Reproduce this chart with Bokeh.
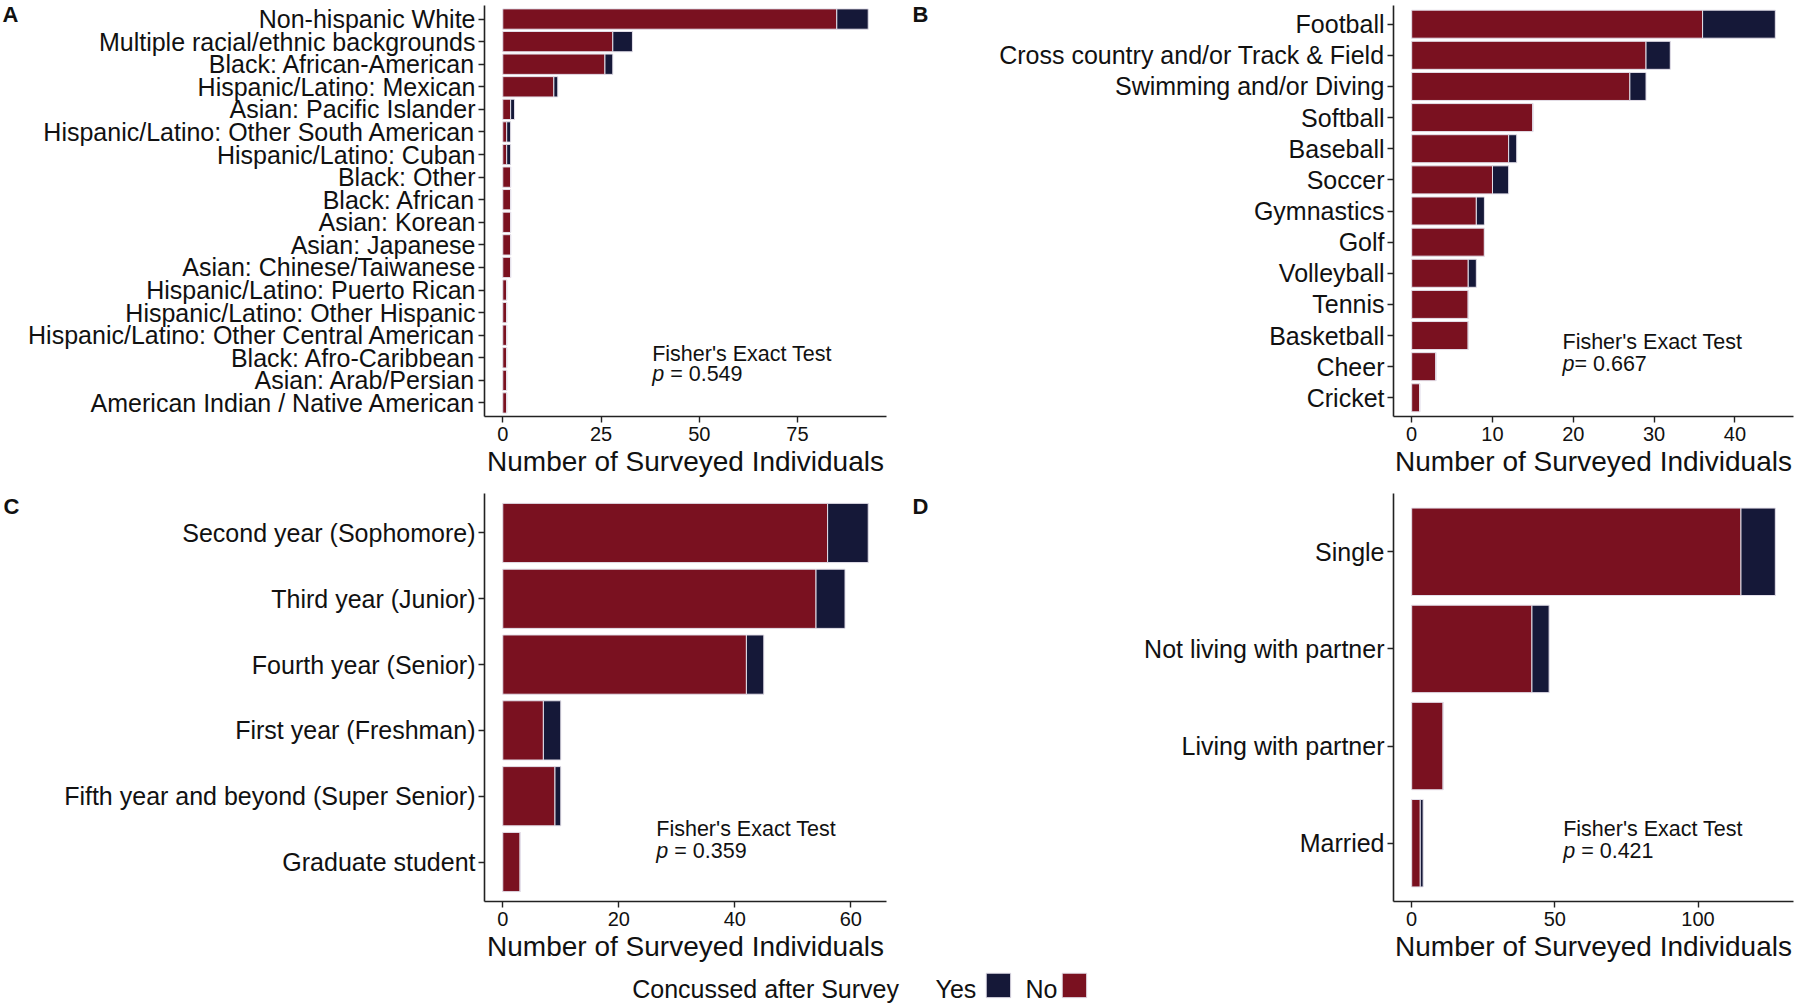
from bokeh.plotting import figure
from bokeh.models import FactorRange, Range1d, FixedTicker, Label, ColumnDataSource
from bokeh.layouts import row, column
from bokeh.embed import file_html
from bokeh.resources import INLINE

# ---------------- data ----------------
race_cats = ["Non-hispanic White", "Multiple racial/ethnic backgrounds", "Black: African-American",
             "Hispanic/Latino: Mexican", "Asian: Pacific Islander", "Hispanic/Latino: Other South American",
             "Hispanic/Latino: Cuban", "Black: Other", "Black: African", "Asian: Korean", "Asian: Japanese",
             "Asian: Chinese/Taiwanese", "Hispanic/Latino: Puerto Rican", "Hispanic/Latino: Other Hispanic",
             "Hispanic/Latino: Other Central American", "Black: Afro-Caribbean", "Asian: Arab/Persian",
             "American Indian / Native American"]
race_no = [85, 28, 26, 13, 2, 1, 1, 2, 2, 2, 2, 2, 1, 1, 1, 1, 1, 1]
race_yes = [8, 5, 2, 1, 1, 1, 1, 0, 0, 0, 0, 0, 0, 0, 0, 0, 0, 0]
race_ticks = [0, 25, 50, 75]

sport_cats = ["Football", "Cross country and/or Track & Field", "Swimming and/or Diving", "Softball",
              "Baseball", "Soccer", "Gymnastics", "Golf", "Volleyball", "Tennis", "Basketball", "Cheer", "Cricket"]
sport_no = [36, 29, 27, 15, 12, 10, 8, 9, 7, 7, 7, 3, 1]
sport_yes = [9, 3, 2, 0, 1, 2, 1, 0, 1, 0, 0, 0, 0]
sport_ticks = [0, 10, 20, 30, 40]

year_cats = ["Second year (Sophomore)", "Third year (Junior)", "Fourth year (Senior)",
             "First year (Freshman)", "Fifth year and beyond (Super Senior)", "Graduate student"]
year_no = [56, 54, 42, 7, 9, 3]
year_yes = [7, 5, 3, 3, 1, 0]
year_ticks = [0, 20, 40, 60]

rel_cats = ["Single", "Not living with partner", "Living with partner", "Married"]
rel_no = [115, 42, 11, 3]
rel_yes = [12, 6, 0, 1]
rel_ticks = [0, 50, 100]

panel_letters = ["A", "B", "C", "D"]
p_labels = ["= 0.549", "= 0.667", "= 0.359", "= 0.421"]
p_spaces = [" ", "", " ", " "]
series = ["Yes", "No"]
legend_title = "Concussed after Survey"
x_title = "Number of Surveyed Individuals"

# ---------------- style ----------------
FONT = "Liberation Sans"
RED = "#7A1120"
NAVY = "#151838"
COLORS = {"No": RED, "Yes": NAVY}
OUTLINE = "#E4E0EA"
AXC = "#222222"


def make_panel(cats, no, yes, ticks, width, height, left, right, top, bottom,
               frame_left_ref, frame_top_ref, pspace, ptext, fisher_ref):
    n = len(cats)
    frame_w = width - left - right
    frame_h = height - top - bottom
    xmax = max(a + b for a, b in zip(no, yes))
    xr = Range1d(-0.05 * xmax, 1.05 * xmax)
    yr = FactorRange(factors=list(reversed(cats)), range_padding=0.2 / n, range_padding_units="percent")
    p = figure(width=width, height=height, x_range=xr, y_range=yr, output_backend="svg",
               toolbar_location=None, min_border_left=left, min_border_right=right,
               min_border_top=top, min_border_bottom=bottom)
    src = ColumnDataSource(dict(cat=cats, No=no, Yes=yes))
    p.hbar_stack(["No", "Yes"], y="cat", height=0.9, source=src,
                 fill_color=[COLORS["No"], COLORS["Yes"]], line_color=OUTLINE, line_width=1)

    p.xgrid.visible = False
    p.ygrid.visible = False
    p.outline_line_color = None
    p.background_fill_color = "white"
    p.border_fill_color = "white"
    p.xaxis.ticker = FixedTicker(ticks=ticks)
    for ax in (p.xaxis[0], p.yaxis[0]):
        ax.axis_line_color = AXC
        ax.axis_line_width = 1.6
        ax.major_tick_line_color = AXC
        ax.major_tick_line_width = 1.4
        ax.major_tick_in = 0
        ax.major_tick_out = 6
        ax.minor_tick_line_color = None
        ax.major_label_text_font = FONT
        ax.major_label_text_color = "#111111"
    p.xaxis.major_label_text_font_size = "20px"
    p.xaxis.major_label_standoff = 4
    p.xaxis.axis_label = x_title
    p.xaxis.axis_label_text_font = FONT
    p.xaxis.axis_label_text_font_size = "28px"
    p.xaxis.axis_label_text_font_style = "normal"
    p.xaxis.axis_label_text_color = "#111111"
    p.xaxis.axis_label_standoff = 2
    p.yaxis.major_label_text_font_size = "25px"
    p.yaxis.major_label_standoff = 3

    span_x = xr.end - xr.start

    def xd(rx):
        return xr.start + (rx - frame_left_ref) / frame_w * span_x

    def yd(ry):
        return (n + 0.1) - (ry - frame_top_ref) / frame_h * (n + 0.2)

    fx, fy1, fy2 = fisher_ref
    common = dict(text_font=FONT, text_font_size="21.5px", text_baseline="middle", text_align="left",
                  text_color="#111111")
    p.add_layout(Label(x=xd(fx), y=yd(fy1), text="Fisher's Exact Test", **common))
    p.add_layout(Label(x=xd(fx), y=yd(fy2), text="p", text_font_style="italic", **common))
    p.add_layout(Label(x=xd(fx), y=yd(fy2), x_offset=12 + (6 if pspace else 0), text=ptext, **common))
    return p


def letter_strip(letter, width, height, x_left, baseline_from_top):
    f = figure(width=width, height=height, x_range=Range1d(0, width), y_range=Range1d(0, height),
               output_backend="svg", toolbar_location=None, x_axis_type=None, y_axis_type=None,
               min_border=0)
    f.xgrid.visible = False
    f.ygrid.visible = False
    f.outline_line_color = None
    f.add_layout(Label(x=x_left, y=height - baseline_from_top, text=letter, text_font=FONT,
                       text_font_size="22px", text_font_style="bold", text_baseline="alphabetic",
                       text_align="left", text_color="#111111"))
    return f


# geometry (page pixels; the page starts at 0,0)
LW, RW = 903, 896          # left / right column widths
DLW, DRW = 22, 27          # letter strip widths
TH, BH = 484, 480
LEG_H = 1004 - TH - BH

pA = make_panel(race_cats, race_no, race_yes, race_ticks, LW - DLW, TH, 484 - DLW, 17, 5, 68,
                484, 5, p_spaces[0], p_labels[0], (651.7, 353.3, 373.3))
pB = make_panel(sport_cats, sport_no, sport_yes, sport_ticks, RW - DRW, TH, 1393 - LW - DRW, 6, 5, 68,
                1393, 5, p_spaces[1], p_labels[1], (1562, 341.7, 363.3))
pC = make_panel(year_cats, year_no, year_yes, year_ticks, LW - DLW, BH, 484 - DLW, 17, 9, 63,
                484, TH + 9, p_spaces[2], p_labels[2], (655.8, 828.3, 850.7))
pD = make_panel(rel_cats, rel_no, rel_yes, rel_ticks, RW - DRW, BH, 1393 - LW - DRW, 6, 9, 63,
                1393, TH + 9, p_spaces[3], p_labels[3], (1562.7, 828.3, 850.7))

dA = letter_strip(panel_letters[0], DLW, TH, 2, 11)
dB = letter_strip(panel_letters[1], DRW, TH, 9, 11)
dC = letter_strip(panel_letters[2], DLW, BH, 3, 15)
dD = letter_strip(panel_letters[3], DRW, BH, 9, 15)

# legend strip
LEG_TOP = TH + BH
leg = figure(width=LW + RW, height=LEG_H, x_range=Range1d(0, LW + RW), y_range=Range1d(0, LEG_H),
             output_backend="svg", toolbar_location=None, x_axis_type=None, y_axis_type=None,
             min_border=0)
leg.xgrid.visible = False
leg.ygrid.visible = False
leg.outline_line_color = None


def ly(ry):
    return LEG_H - (ry - LEG_TOP)


text_y = ly(988)
leg.add_layout(Label(x=631.7, y=text_y, text=legend_title, text_font=FONT, text_font_size="25px",
                     text_baseline="middle", text_align="left", text_color="#111111"))
item_text_x = [935, 1025]
item_box_x = [985.7, 1061.7]
for name, tx, bx in zip(series, item_text_x, item_box_x):
    leg.add_layout(Label(x=tx, y=text_y, text=name, text_font=FONT, text_font_size="25px",
                         text_baseline="middle", text_align="left", text_color="#111111"))
    leg.quad(left=[bx], right=[bx + 24.5], top=[ly(972.7)], bottom=[ly(997.2)],
             fill_color=COLORS[name], line_color=OUTLINE, line_width=1)

layout = column(row(dA, pA, dB, pB), row(dC, pC, dD, pD), leg)
open("out.html", "w").write(file_html(layout, INLINE))
